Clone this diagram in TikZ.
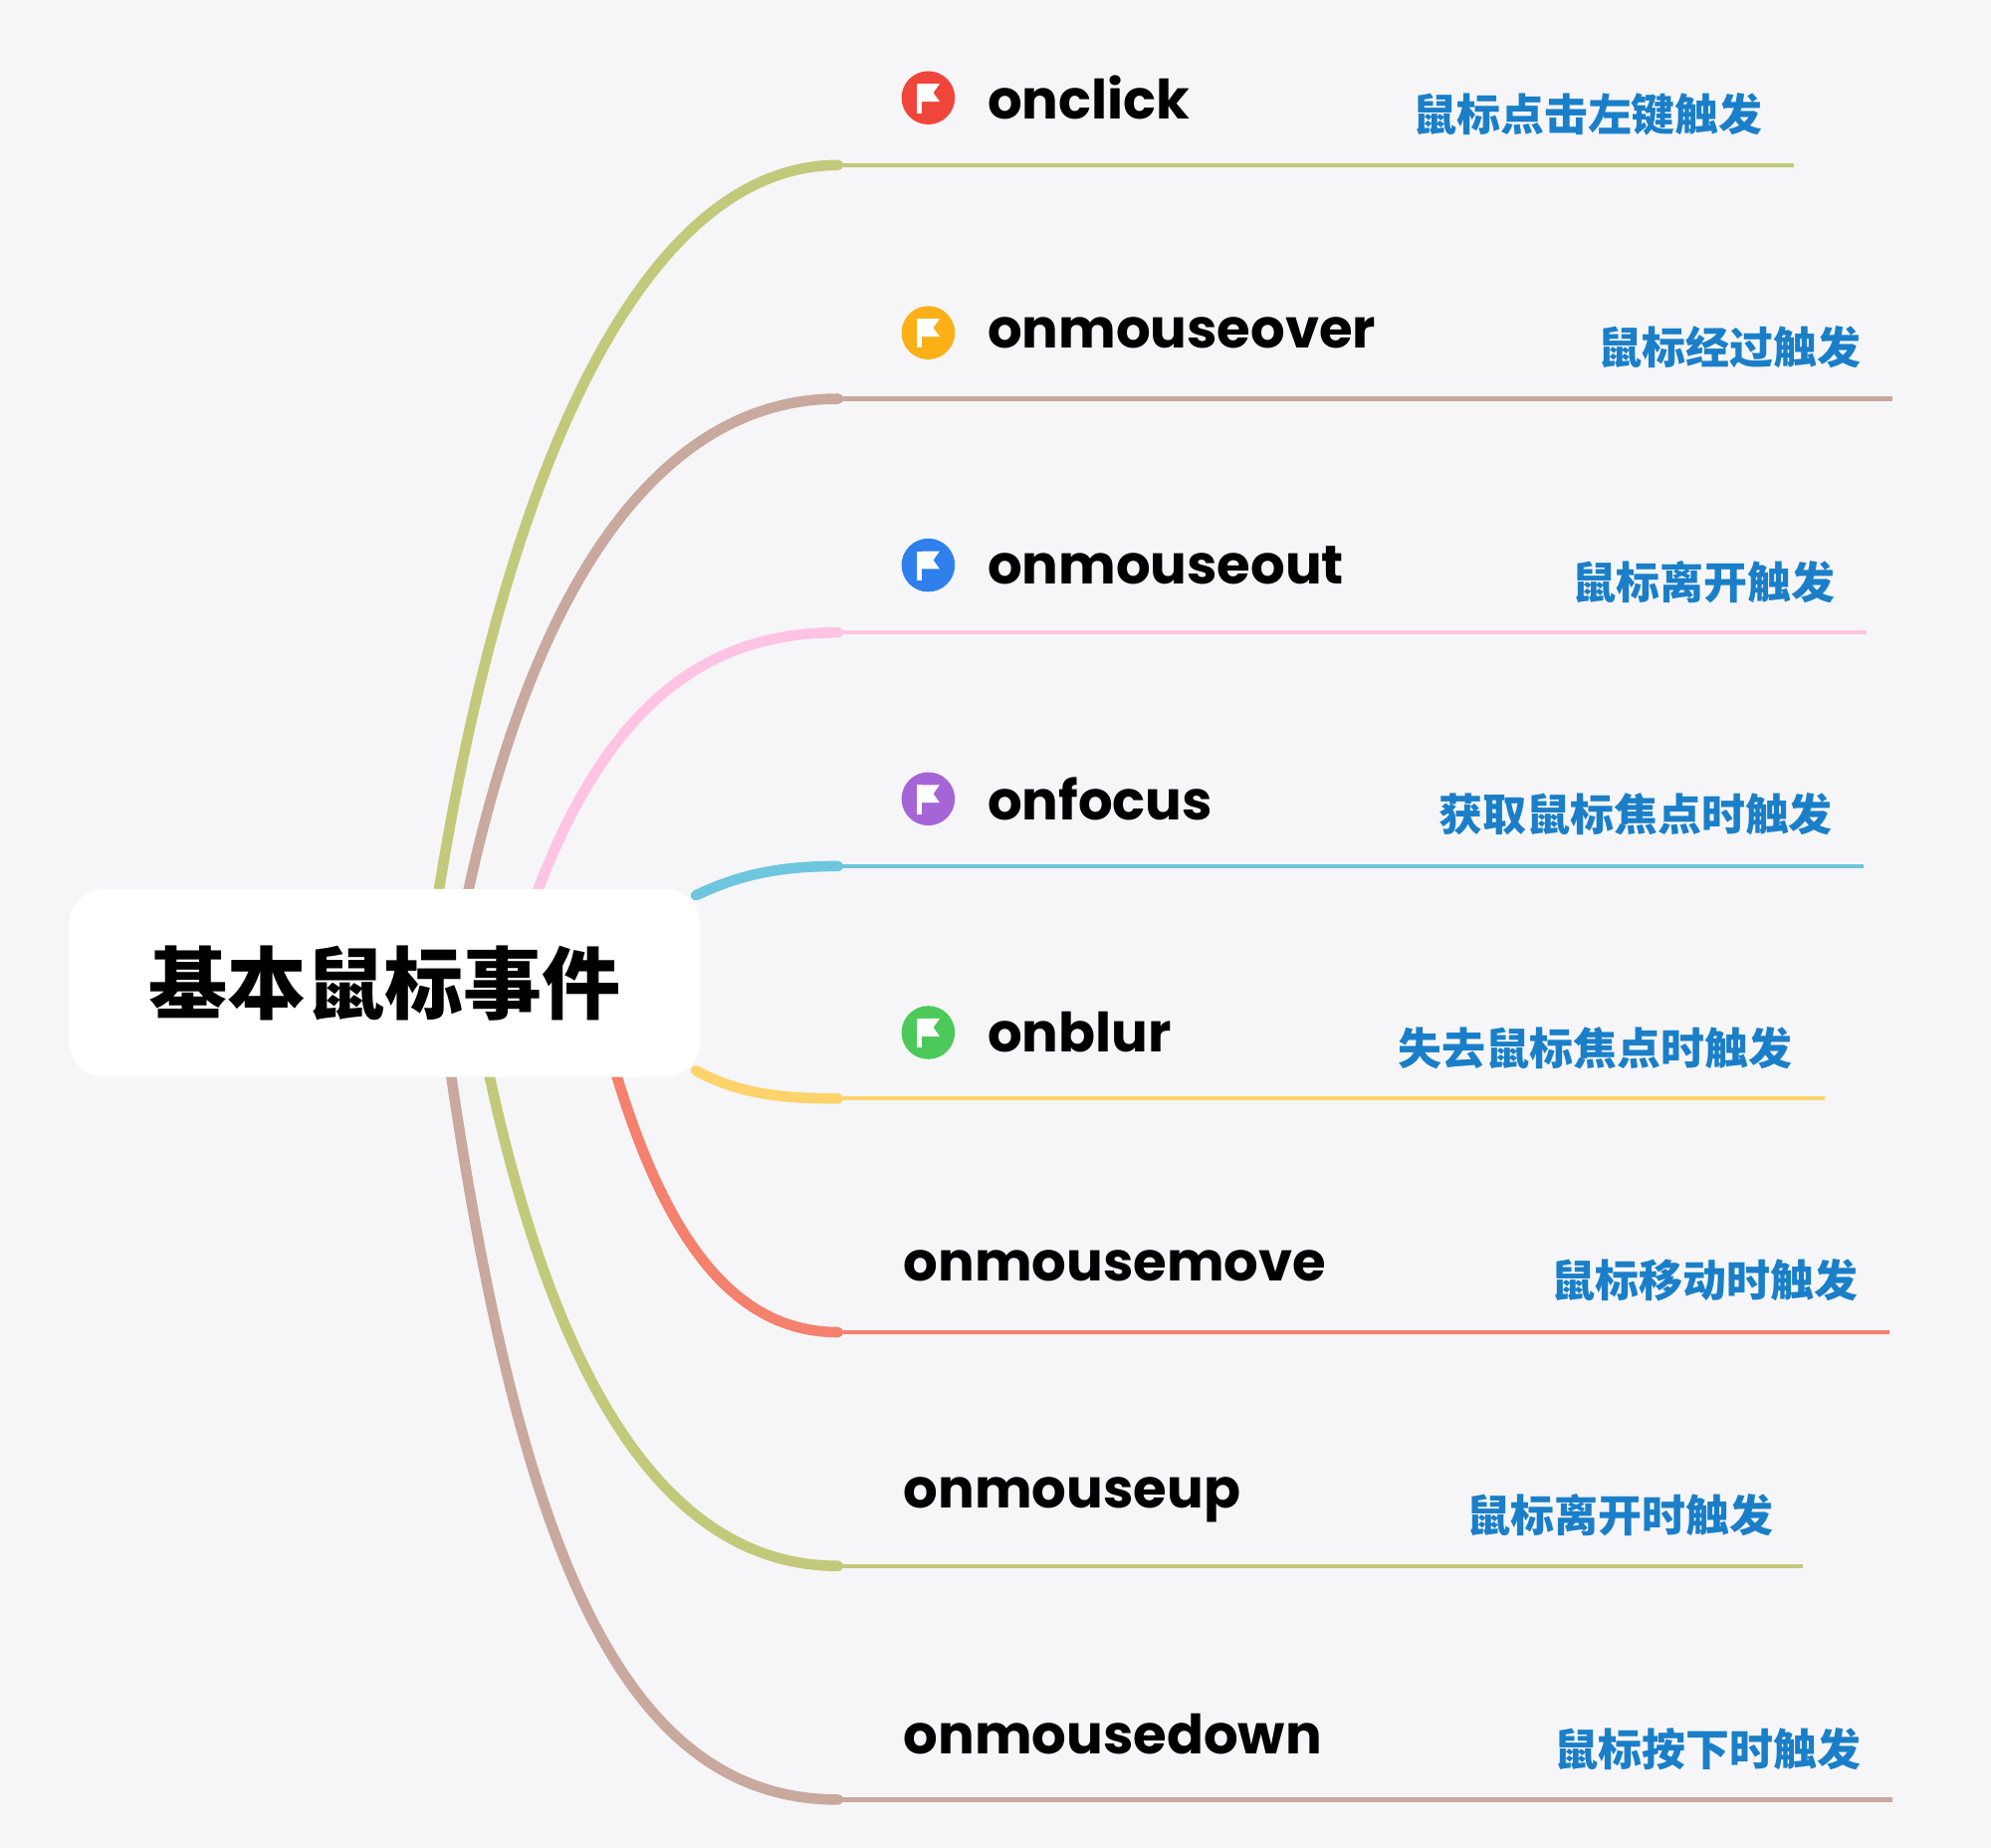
\documentclass[tikz,border=0pt]{standalone}
\usepackage{fontspec}
\setmainfont{Poppins}
\newfontfamily\cjk{Noto Sans CJK SC}
\definecolor{bgc}{HTML}{F6F6F8}
\definecolor{olive}{HTML}{C2C97A}
\definecolor{brownish}{HTML}{C9A89E}
\definecolor{pinkish}{HTML}{FFC3E3}
\definecolor{cyanish}{HTML}{6EC6DE}
\definecolor{yellowish}{HTML}{FFD36B}
\definecolor{salmon}{HTML}{F4806E}
\definecolor{notec}{HTML}{1A7FC8}
\definecolor{iconred}{HTML}{F0453A}
\definecolor{iconorange}{HTML}{FBB018}
\definecolor{iconblue}{HTML}{2F80ED}
\definecolor{iconpurple}{HTML}{A665D6}
\definecolor{icongreen}{HTML}{4CC95A}
\tikzset{
  event/.style={anchor=west, font=\fontsize{15.5}{18}\selectfont\bfseries},
  note/.style={anchor=east, text=notec, font=\cjk\fontsize{12.5}{14}\selectfont\bfseries},
  branch/.style={line width=3pt, line cap=round},
  stem/.style={line width=1.2pt}
}
% flag icon: centre, colour
\newcommand{\flagicon}[2]{
  \fill[#2] (#1) circle (21);
  \fill[white] ([shift={(-9,-11)}]#1) rectangle ([shift={(-5,12)}]#1);
  \fill[white] ([shift={(-5,-11)}]#1) -- ([shift={(9,-11)}]#1) -- ([shift={(4,-4)}]#1)
    -- ([shift={(9,3)}]#1) -- ([shift={(-5,3)}]#1) -- cycle;
}
\begin{document}
\begin{tikzpicture}[x=0.012755cm,y=-0.012755cm]
    \fill[bgc] (0,0) rectangle (1568,1455);
    \useasboundingbox (0,0) rectangle (1568,1455);

    % branch ends
    \coordinate (e1) at (660,130);
    \coordinate (e2) at (660,314);
    \coordinate (e3) at (660,498);
    \coordinate (e4) at (660,682);
    \coordinate (e5) at (660,865);
    \coordinate (e6) at (660,1049);
    \coordinate (e7) at (660,1233);
    \coordinate (e8) at (660,1417);

    % curves from root
    \draw[branch,olive] (345,705) .. controls (400,360) and (510,130) .. (e1);
    \draw[branch,brownish] (368,705) .. controls (425,440) and (530,314) .. (e2);
    \draw[branch,pinkish] (422,705) .. controls (480,550) and (560,498) .. (e3);
    \draw[branch,cyanish] (548,705) .. controls (580,690) and (610,682) .. (e4);
    \draw[branch,yellowish] (548,843) .. controls (580,860) and (610,865) .. (e5);
    \draw[branch,salmon] (485,845) .. controls (520,960) and (570,1049) .. (e6);
    \draw[branch,olive] (385,845) .. controls (440,1100) and (530,1233) .. (e7);
    \draw[branch,brownish] (355,845) .. controls (410,1220) and (490,1417) .. (e8);

    % horizontal stems
    \draw[stem,olive] (e1) -- (1413,130);
    \draw[stem,brownish] (e2) -- (1490,314);
    \draw[stem,pinkish] (e3) -- (1470,498);
    \draw[stem,cyanish] (e4) -- (1468,682);
    \draw[stem,yellowish] (e5) -- (1437,865);
    \draw[stem,salmon] (e6) -- (1488,1049);
    \draw[stem,olive] (e7) -- (1420,1233);
    \draw[stem,brownish] (e8) -- (1490,1417);

    \node (root) at (303,774) [fill=white, rounded corners=10pt, minimum width=497*0.012755cm, minimum height=148*0.012755cm, font=\cjk\fontsize{22.5}{26}\selectfont\bfseries] {基本鼠标事件};

    \coordinate (i1) at (731,77);
    \coordinate (i2) at (731,262);
    \coordinate (i3) at (731,445);
    \coordinate (i4) at (731,629);
    \coordinate (i5) at (731,813);
    \flagicon{i1}{iconred}
    \flagicon{i2}{iconorange}
    \flagicon{i3}{iconblue}
    \flagicon{i4}{iconpurple}
    \flagicon{i5}{icongreen}

    \node (t1) at (768,77) [event] {onclick};
    \node (t2) at (768,262) [event] {onmouseover};
    \node (t3) at (768,445) [event] {onmouseout};
    \node (t4) at (768,629) [event] {onfocus};
    \node (t5) at (768,813) [event] {onblur};
    \node (t6) at (702,997) [event] {onmousemove};
    \node (t7) at (702,1181) [event] {onmouseup};
    \node (t8) at (702,1365) [event] {onmousedown};

    \node (n1) at (1398,90) [note] {鼠标点击左键触发};
    \node (n2) at (1475,273) [note] {鼠标经过触发};
    \node (n3) at (1455,458) [note] {鼠标离开触发};
    \node (n4) at (1453,641) [note] {获取鼠标焦点时触发};
    \node (n5) at (1421,825) [note] {失去鼠标焦点时触发};
    \node (n6) at (1473,1008) [note] {鼠标移动时触发};
    \node (n7) at (1406,1193) [note] {鼠标离开时触发};
    \node (n8) at (1475,1377) [note] {鼠标按下时触发};
\end{tikzpicture}
\end{document}
